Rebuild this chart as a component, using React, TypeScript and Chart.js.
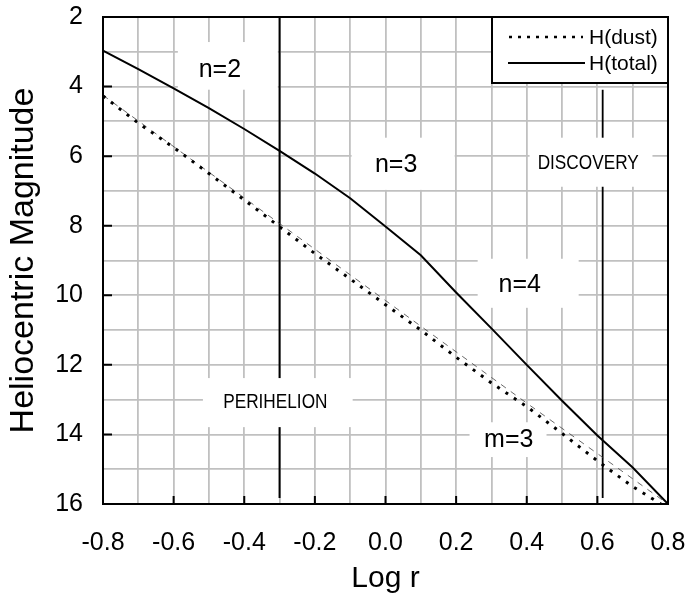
import React, { useEffect, useRef } from 'react';
import { Chart, registerables } from 'chart.js';

Chart.register(...registerables);

// ---- Data ----
const totalX = [-0.8, -0.7, -0.6, -0.5, -0.4, -0.3, -0.2, -0.1, 0.0, 0.1, 0.2, 0.3, 0.4, 0.5, 0.6, 0.7, 0.8];
const totalH = [2.97, 3.5, 4.05, 4.62, 5.22, 5.85, 6.5, 7.21, 8.02, 8.85, 9.92, 10.95, 12.0, 13.03, 14.03, 14.95, 16.0];

const dustX = [-0.8, -0.7, -0.6, -0.5, -0.4, -0.3, -0.2, -0.1, 0.0, 0.1, 0.2, 0.3, 0.4, 0.5, 0.6, 0.7, 0.78];
const dustH = [4.27, 5.05, 5.75, 6.5, 7.26, 8.03, 8.8, 9.53, 10.27, 11.0, 11.78, 12.52, 13.2, 13.97, 14.76, 15.5, 16.0];

const modelX = [-0.8, -0.4, 0.0, 0.4, 0.8];
const modelH = [4.25, 7.2, 10.15, 13.1, 16.0];

const perihelionX = [-0.3, -0.3];
const perihelionH = [2.0, 15.83];
const discoveryX = [0.615, 0.615];
const discoveryH = [4.09, 15.83];

const xTicks = [-0.8, -0.7, -0.6, -0.5, -0.4, -0.3, -0.2, -0.1, 0.0, 0.1, 0.2, 0.3, 0.4, 0.5, 0.6, 0.7, 0.8];
const yTicks = [2, 3, 4, 5, 6, 7, 8, 9, 10, 11, 12, 13, 14, 15, 16];

const legendLabels = ['H(dust)', 'H(total)'];

// annotation labels: text, anchor (data coords) and white box extent (data coords)
const noteTexts = ['n=2', 'n=3', 'DISCOVERY', 'n=4', 'm=3', 'PERIHELION'];
const noteTextX = [-0.469, 0.03, 0.574, 0.38, 0.349, -0.312];
const noteTextY = [3.52, 6.25, 6.19, 9.7, 14.16, 13.07];
const noteBoxX0 = [-0.588, -0.096, 0.408, 0.261, 0.238, -0.517];
const noteBoxX1 = [-0.305, 0.196, 0.756, 0.547, 0.456, -0.093];
const noteBoxY0 = [2.72, 5.47, 5.47, 8.95, 13.65, 12.38];
const noteBoxY1 = [4.09, 6.97, 6.88, 10.36, 14.65, 13.79];
const noteNarrow = [false, false, true, false, false, true];

const FONT = '"Liberation Sans", Arial, Helvetica, sans-serif';

const pts = (xs: number[], ys: number[]) => xs.map((x, i) => ({ x, y: ys[i] }));

const fmtX = (v: number) => {
  const r = Math.round(v * 10) / 10;
  return (r === 0 ? 0 : r).toFixed(1);
};

const noPad = (s: any) => {
  s.paddingTop = 0;
  s.paddingBottom = 0;
  s.paddingLeft = 0;
  s.paddingRight = 0;
};

const decorPlugin = {
  id: 'decor',
  afterDatasetDraw(chart: any, args: any) {
    if (args.index !== 3) return;
    const { ctx } = chart;
    const xs = chart.scales.x;
    const ys = chart.scales.y;
    ctx.save();
    for (let i = 0; i < noteTexts.length; i++) {
      const x1 = xs.getPixelForValue(noteBoxX0[i]);
      const x2 = xs.getPixelForValue(noteBoxX1[i]);
      const y1 = ys.getPixelForValue(noteBoxY0[i]);
      const y2 = ys.getPixelForValue(noteBoxY1[i]);
      ctx.fillStyle = '#ffffff';
      ctx.fillRect(Math.min(x1, x2), Math.min(y1, y2), Math.abs(x2 - x1), Math.abs(y2 - y1));
      const tx = xs.getPixelForValue(noteTextX[i]);
      const ty = ys.getPixelForValue(noteTextY[i]);
      ctx.fillStyle = '#000';
      ctx.textAlign = 'center';
      ctx.textBaseline = 'middle';
      if (noteNarrow[i]) {
        ctx.save();
        ctx.translate(tx, ty);
        ctx.scale(0.82, 1);
        ctx.font = '21px ' + FONT;
        ctx.fillText(noteTexts[i], 0, 0);
        ctx.restore();
      } else {
        ctx.font = '25px ' + FONT;
        ctx.fillText(noteTexts[i], tx, ty);
      }
    }
    ctx.restore();
  },
  afterDraw(chart: any) {
    const { ctx, chartArea } = chart;
    const xs = chart.scales.x;
    const ys = chart.scales.y;
    const { left, right, top, bottom } = chartArea;
    ctx.save();
    // inward tick marks
    ctx.strokeStyle = '#000';
    ctx.lineWidth = 2;
    ctx.beginPath();
    yTicks.forEach((v, i) => {
      if (i % 2 !== 0) return;
      const y = ys.getPixelForValue(v);
      ctx.moveTo(left, y);
      ctx.lineTo(left + 9, y);
    });
    xTicks.forEach((v, i) => {
      if (i % 2 !== 0) return;
      const x = xs.getPixelForValue(v);
      ctx.moveTo(x, bottom);
      ctx.lineTo(x, bottom - 8);
    });
    ctx.stroke();
    // frame
    ctx.strokeRect(left, top, right - left, bottom - top);

    // legend box
    const lw = 176;
    const lh = 66;
    const lx = right - lw;
    const ly = top;
    ctx.fillStyle = '#fff';
    ctx.fillRect(lx, ly, lw, lh);
    ctx.strokeRect(lx, ly, lw, lh);
    ctx.font = '21px ' + FONT;
    ctx.fillStyle = '#000';
    ctx.textAlign = 'left';
    ctx.textBaseline = 'middle';
    const rows = [ly + 20, ly + 46];
    // dust sample
    ctx.lineWidth = 2.5;
    ctx.setLineDash([3, 6]);
    ctx.beginPath();
    ctx.moveTo(lx + 17, rows[0]);
    ctx.lineTo(lx + 91, rows[0]);
    ctx.stroke();
    ctx.setLineDash([]);
    ctx.lineWidth = 2;
    ctx.beginPath();
    ctx.moveTo(lx + 16, rows[1]);
    ctx.lineTo(lx + 93, rows[1]);
    ctx.stroke();
    ctx.fillText(legendLabels[0], lx + 97, rows[0] + 1);
    ctx.fillText(legendLabels[1], lx + 97, rows[1] + 1);
    ctx.restore();
  },
};

export default function App() {
  const ref = useRef<HTMLCanvasElement>(null);
  useEffect(() => {
    const chart = new Chart(ref.current as HTMLCanvasElement, {
      type: 'line',
      data: {
        datasets: [
          {
            label: legendLabels[1],
            data: pts(totalX, totalH),
            borderColor: '#000',
            borderWidth: 2,
            pointRadius: 0,
            fill: false,
            tension: 0,
          },
          {
            label: legendLabels[0],
            data: pts(dustX, dustH),
            borderColor: '#000',
            borderWidth: 3,
            borderDash: [3, 7],
            pointRadius: 0,
            fill: false,
          },
          {
            label: 'model',
            data: pts(modelX, modelH),
            borderColor: '#444',
            borderWidth: 0.8,
            borderDash: [6, 6],
            pointRadius: 0,
            fill: false,
          },
          {
            label: 'perihelion',
            data: pts(perihelionX, perihelionH),
            borderColor: '#000',
            borderWidth: 2,
            pointRadius: 0,
            fill: false,
          },
          {
            label: 'discovery',
            data: pts(discoveryX, discoveryH),
            borderColor: '#000',
            borderWidth: 1.8,
            pointRadius: 0,
            fill: false,
          },
        ],
      },
      options: {
        responsive: false,
        animation: false,
        devicePixelRatio: 1,
        layout: { padding: { top: 17, right: 24, left: 0, bottom: 0 } },
        plugins: { legend: { display: false }, tooltip: { enabled: false } },
        scales: {
          x: {
            type: 'linear',
            min: -0.8,
            max: 0.8,
            afterBuildTicks: (s: any) => {
              s.ticks = xTicks.map((v) => ({ value: v }));
            },
            afterFit: (s: any) => {
              s.height = 99;
              noPad(s);
            },
            grid: { color: '#c0c0c0', lineWidth: 1.8, drawTicks: false },
            border: { display: false },
            ticks: {
              autoSkip: false,
              maxRotation: 0,
              minRotation: 0,
              padding: 24,
              color: '#000',
              font: { family: FONT, size: 25 },
              callback: (v: any, i: number) => (i % 2 === 0 ? fmtX(Number(v)) : ''),
            },
            title: {
              display: true,
              text: 'Log r',
              color: '#000',
              font: { family: FONT, size: 30 },
              padding: { top: 0, bottom: 6 },
            },
          },
          y: {
            type: 'linear',
            reverse: true,
            min: 2,
            max: 16,
            afterBuildTicks: (s: any) => {
              s.ticks = yTicks.map((v) => ({ value: v }));
            },
            afterFit: (s: any) => {
              s.width = 103;
              noPad(s);
            },
            grid: { color: '#c0c0c0', lineWidth: 1.8, drawTicks: false },
            border: { display: false },
            ticks: {
              autoSkip: false,
              padding: 20,
              color: '#000',
              font: { family: FONT, size: 25 },
              callback: (v: any, i: number) => (i % 2 === 0 ? String(v) : ''),
            },
            title: {
              display: true,
              text: 'Heliocentric Magnitude',
              color: '#000',
              font: { family: FONT, size: 34 },
              padding: { top: 3, bottom: 0 },
            },
          },
        },
      },
      plugins: [decorPlugin],
    } as any);
    return () => chart.destroy();
  }, []);
  return (
    <div style={{ position: 'absolute', left: 0, top: 0, width: 692, height: 603 }}>
      <canvas ref={ref} width={692} height={603} style={{ display: 'block' }} />
    </div>
  );
}
